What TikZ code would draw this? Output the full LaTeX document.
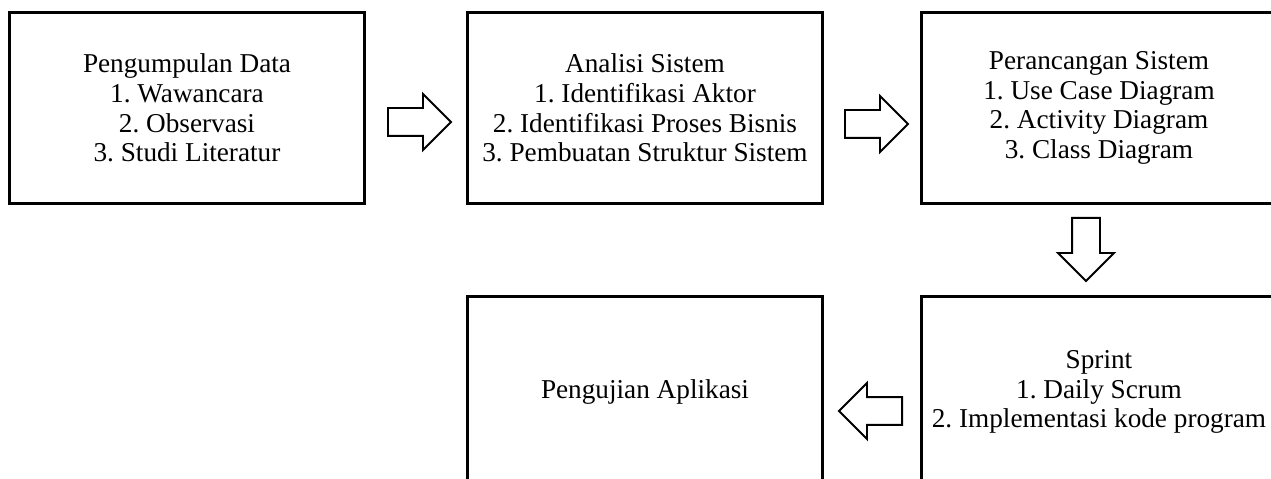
\documentclass[tikz,border=0pt]{standalone}
\usepackage{fontspec}
\setmainfont{Liberation Serif}
\usetikzlibrary{shapes.arrows}
\frenchspacing

\begin{document}
\begin{tikzpicture}[x=0.02cm,y=-0.02cm,
  tahap/.style={draw,line width=1.7pt,minimum width=7.1cm,minimum height=3.84cm,align=center,font=\fontsize{15.5}{16.8}\selectfont},
  panah/.style={draw,single arrow,line width=1.1pt,inner sep=0.26cm,single arrow head extend=0.28cm,minimum height=1.26cm,anchor=tail}]
\useasboundingbox (0,0) rectangle (1271,479);
\clip (0,0) rectangle (1271,479);
\node[tahap] (data) at (187,108) {Pengumpulan Data\\1. Wawancara\\2. Observasi\\3. Studi Literatur};
\node[tahap] (analisis) at (645,108) {Analisi Sistem\\1. Identifikasi Aktor\\2. Identifikasi Proses Bisnis\\3. Pembuatan Struktur Sistem};
\node[tahap] (rancang) at (1099,108) {Perancangan Sistem\\1. Use Case Diagram\\2. Activity Diagram\\3. Class Diagram};
\node[tahap] (sprint) at (1099,392) {Sprint\\1. Daily Scrum\\2. Implementasi kode program};
\node[tahap] (uji) at (645,392) {Pengujian Aplikasi};
% panah blok antar tahap
\node[panah] (p1) at (387,122) {};
\node[panah] (p2) at (844,124) {};
\node[panah,shape border rotate=270] (p3) at (1086,217) {};
\node[panah,shape border rotate=180] (p4) at (903,411) {};
\end{tikzpicture}
\end{document}
